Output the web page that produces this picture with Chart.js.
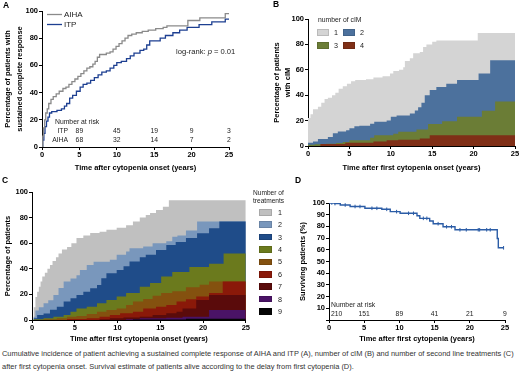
<!DOCTYPE html>
<html>
<head>
<meta charset="utf-8">
<script src="https://cdn.jsdelivr.net/npm/chart.js@4.4.1/dist/chart.umd.min.js"></script>
<style>
body { margin: 0; background: #fff; }
#fig { position: relative; width: 520px; height: 377px; overflow: hidden; font-family: 'Liberation Sans', Arial, sans-serif; color: #000; }
#fig canvas, #fig .t { position: absolute; }
.t { white-space: nowrap; }
.letter { font-weight: bold; font-size: 8.5px; line-height: 9px; }
.cap { font-size: 7.45px; line-height: 13px; color: #333; }
.sw { position: absolute; box-sizing: border-box; border: 1px solid rgba(0,0,0,0.12); }
</style>
</head>
<body>
<div id="fig">
  <canvas id="cA" width="260" height="172" style="left:0;top:0"></canvas>
  <canvas id="cB" width="260" height="172" style="left:260px;top:0"></canvas>
  <canvas id="cC" width="250" height="163" style="left:0;top:180px"></canvas>
  <canvas id="cD" width="226" height="163" style="left:294px;top:180px"></canvas>

  <div class="t letter" style="left:3px;top:1px">A</div>
  <div class="t letter" style="left:273px;top:0px">B</div>
  <div class="t letter" style="left:2px;top:176px">C</div>
  <div class="t letter" style="left:295px;top:176px">D</div>

  <div class="t" style="left:318px;top:16px;font-size:6.8px;color:#222">number of cIM</div>
  <div class="t" style="left:253px;top:189px;font-size:6.6px;line-height:8px;color:#222">Number of<br>treatments</div>
  <div id="legB"></div>
  <div id="legC"></div>

  <div class="t cap" style="left:2px;top:347px">Cumulative incidence of patient achieving a sustained complete response of AIHA and ITP (A), number of cIM (B) and number of second line treatments (C)<br>after first cytopenia onset. Survival estimate of patients alive according to the delay from first cytopenia (D).</div>
</div>
<script>
// ---- A: sustained complete response (Kaplan-Meier style, %)
var aihaYears = [0, 0.1, 0.2, 0.35, 0.5, 0.7, 0.9, 1.2, 1.5, 1.9, 2.3, 2.8, 3.2, 3.6, 4.0, 4.4, 4.8, 5.2, 5.6, 6.0, 6.4, 6.8, 7.1, 7.4, 7.7, 8.6, 9.1, 9.5, 9.9, 10.3, 10.7, 11.1, 11.5, 12.0, 12.6, 13.4, 14.2, 15.2, 16.2, 16.7, 19.5, 21.1, 24.5, 25];
var aihaPct   = [0, 8, 14, 20, 25, 28, 32, 35, 37, 39, 41, 43, 44, 46, 48, 50, 52, 54, 56, 58, 59, 61, 63, 66, 68, 69, 70, 72, 74, 76, 78, 80, 82, 83, 84, 85, 86, 87, 88, 89, 93, 95, 98, 98];
var itpYears = [0, 0.1, 0.25, 0.4, 0.6, 0.8, 1.0, 1.3, 2.0, 2.6, 3.0, 3.3, 3.7, 4.1, 4.6, 5.1, 5.5, 6.0, 6.5, 7.0, 7.5, 8.0, 8.6, 9.1, 9.6, 10.0, 10.6, 11.3, 11.8, 12.3, 13.1, 13.6, 14.0, 14.4, 15.8, 16.5, 17.5, 18.4, 19.4, 21.0, 22.7, 24.5, 25];
var itpPct   = [0, 5, 10, 15, 19, 22, 25, 26, 27, 28, 30, 32, 36, 38, 41, 44, 46, 47, 49, 51, 53, 55, 56, 58, 60, 62, 63, 65, 67, 69, 71, 72, 75, 78, 80, 82, 84, 86, 88, 90, 92, 94, 94];
var riskYearsA = [5, 10, 15, 20, 25];
var itpAtRisk  = [89, 45, 19, 9, 3];
var aihaAtRisk = [68, 32, 14, 7, 2];

// ---- B: cumulative % of patients with >= n cIM
var cimLevels = ['1', '2', '3', '4'];
var cim1Years = [0, 0.3, 0.6, 1.2, 1.6, 2.0, 2.4, 2.9, 3.3, 3.7, 4.2, 4.7, 5.2, 5.7, 7.0, 7.9, 9.0, 9.9, 10.3, 11.0, 11.5, 11.7, 12.3, 12.7, 13.5, 13.9, 14.3, 15.0, 15.5, 20.5, 25];
var cim1Pct   = [22, 25, 29, 31, 34, 37, 38, 40, 42, 45, 47, 49, 51, 52, 52.5, 54, 55, 57, 59, 60, 62, 67, 69, 73, 74, 78, 80, 82, 83, 89, 89];
var cim2Years = [0, 0.6, 1.2, 2.4, 3.0, 3.6, 4.6, 5.0, 5.6, 6.2, 7.5, 8.0, 9.5, 10.0, 10.7, 12.3, 12.9, 13.3, 13.7, 14.1, 14.7, 15.5, 16.7, 18.0, 20.6, 22.0, 25];
var cim2Pct   = [2.5, 3.5, 5.5, 7, 10, 11.5, 12.5, 14, 15.5, 16, 17.5, 19, 20, 23, 24, 25.5, 28, 30.5, 34, 40, 44, 46.5, 49, 52, 57, 67.5, 67.5];
var cim3Years = [0, 0.8, 2.2, 3.4, 4.2, 5.0, 7.5, 8.0, 10.3, 10.9, 13.1, 14.5, 16.2, 18.0, 21.0, 22.6, 25];
var cim3Pct   = [1, 1.3, 1.8, 2.4, 3.2, 4.5, 6.5, 8.5, 9.7, 11.3, 13, 17.3, 19.5, 23, 27.8, 35, 35];
var cim4Years = [0, 1.5, 4.5, 7.9, 9.5, 10.9, 13.5, 14.7, 25];
var cim4Pct   = [0, 1.5, 2.5, 3.5, 4.5, 5, 6, 8.5, 8.5];

// ---- C: cumulative % of patients with >= n second line treatments
var trtLevels = ['1', '2', '3', '4', '5', '6', '7', '8', '9'];
var trt1Years = [0, 0.2, 0.4, 0.6, 0.8, 1.0, 1.2, 1.5, 1.8, 2.1, 2.4, 2.8, 3.1, 3.5, 4.1, 4.6, 5.2, 6.0, 6.8, 7.9, 8.7, 9.9, 11.0, 11.8, 12.6, 13.3, 13.8, 14.5, 15.3, 16.0, 25];
var trt1Pct   = [0, 10, 18, 22, 26, 30, 34, 37, 40, 43, 46, 49, 52, 55, 57, 60, 64, 66, 68, 69, 70.5, 72, 74, 77, 80, 82, 83.5, 86, 88.5, 93.5, 93.5];
var trt2Years = [0, 0.2, 0.4, 0.8, 1.35, 1.9, 2.5, 3.1, 3.7, 4.5, 5.2, 5.6, 6.4, 7.2, 9.1, 9.9, 11.0, 11.4, 13.0, 14.1, 15.7, 16.4, 17.0, 18.0, 19.3, 25];
var trt2Pct   = [0, 2.5, 7.5, 10, 13, 15.5, 19.5, 25, 30, 32.5, 35, 39, 43, 45.5, 47, 51, 53.5, 56, 57.5, 60, 61.5, 65, 66, 70, 77, 77];
var trt3Years = [0, 0.2, 0.6, 1.35, 2.1, 2.9, 3.7, 4.5, 5.2, 6.0, 6.8, 7.6, 8.1, 8.7, 9.9, 10.7, 11.4, 12.6, 13.3, 14.5, 15.7, 16.8, 18.0, 19.3, 20.7, 21.9, 25];
var trt3Pct   = [0, 1.3, 4, 5, 8, 10.4, 14.4, 17, 19.6, 22, 24.8, 27.4, 32.6, 36.5, 39, 42, 45.7, 49, 51, 54.7, 58.6, 61, 64, 67.7, 71.6, 77, 77];
var trt4Years = [0, 0.2, 1.35, 2.5, 3.7, 4.5, 5.2, 6.4, 7.6, 8.7, 9.9, 11.0, 12.6, 13.8, 15.1, 16.4, 18.4, 20.7, 22.4, 25];
var trt4Pct   = [0, 0.5, 1.3, 2.6, 4, 6.5, 9, 10.4, 13, 15.7, 18.3, 21, 26, 29, 34, 37.5, 41.5, 44, 52, 52];
var trt5Years = [0, 1.35, 2.9, 4.1, 5.2, 6.4, 7.6, 8.7, 9.9, 11.0, 11.8, 13.0, 14.1, 15.1, 16.4, 18.0, 19.6, 20.7, 25];
var trt5Pct   = [0, 0.5, 1.3, 2.6, 3.1, 4.7, 6.5, 7.8, 9, 11.7, 14.4, 16.5, 19, 21, 22.5, 25.5, 27.5, 30, 30];
var trt6Years = [0, 4.1, 6.4, 7.9, 9.1, 10.3, 11.8, 13.0, 14.5, 15.7, 16.9, 18.0, 19.2, 20.7, 22.3, 25];
var trt6Pct   = [0, 0.8, 1.3, 2.6, 4, 5.2, 6.5, 9, 10.4, 11.7, 14.4, 16.2, 18.3, 21, 30, 30];
var trt7Years = [0, 7.9, 9.1, 10.7, 12.6, 14.1, 15.7, 16.9, 17.6, 19.2, 20.7, 25];
var trt7Pct   = [0, 0.5, 1.3, 2, 2.6, 4, 5.2, 6.5, 9, 15.7, 19.6, 19.6];
var trt8Years = [0, 11.0, 12.6, 15.7, 17.6, 20.7, 25];
var trt8Pct   = [0, 0.5, 1.3, 1.8, 2.6, 7.8, 7.8];
var trt9Years = [0, 11.8, 18.0, 25];
var trt9Pct   = [0, 0.3, 1.0, 1.0];

// ---- D: survival (%)
var survYears = [0, 0.8, 1.6, 3.0, 5.1, 7.5, 8.7, 10.1, 12.5, 12.9, 14.3, 14.8, 16.2, 17.9, 23.9, 24.05, 24.8];
var survPct   = [100, 99.5, 98.3, 97, 95.5, 94.6, 92.6, 91.2, 89.1, 86.9, 84.6, 82.3, 79.7, 77.1, 69.7, 61.7, 61.7];
var censorYears = [0.4, 0.85, 2.3, 3.7, 4.4, 6.1, 6.8, 8.2, 9.6, 11.3, 12.0, 13.4, 13.9, 15.5, 16.7, 17.4, 18.6, 19.5, 21.2, 21.4, 22.4, 22.9, 24.8];
var censorPct   = [100, 99.5, 98.3, 97, 97, 95.5, 95.5, 94.6, 92.6, 91.2, 91.2, 86.9, 86.9, 82.3, 79.7, 79.7, 77.1, 77.1, 77.1, 77.1, 77.1, 77.1, 61.7];
var riskYearsD = [0, 5, 10, 15, 20, 25];
var survAtRisk = [210, 151, 89, 41, 21, 9];

var FONT = "'Liberation Sans', Arial, sans-serif";
var aihaColor = '#8a8a8a', itpColor = '#1d3f91', survColor = '#2b5ca6';
var cimColors = ['#d4d4d4', '#4c719d', '#6b7d36', '#7f2f17'];
var trtColors = ['#c0c0c0', '#7997bc', '#1f4c89', '#6b7a1d', '#84510f', '#8a1909', '#5a0b0b', '#4a1366', '#050505'];

function pts(xs, ys) {
  return xs.map(function(x, i) { return {x: x, y: ys[i]}; });
}

function makeScales(o) {
  var tickFont = {family: FONT, size: 7.5, weight: 'bold'};
  return {
    x: {
      type: 'linear', min: 0, max: 25,
      ticks: {stepSize: 5, color: '#000', font: tickFont, padding: 0, maxRotation: 0, autoSkip: false},
      grid: {drawOnChartArea: false, tickLength: 3, color: '#000'},
      border: {color: '#000', width: 1},
      title: {display: true, text: o.xTitle, color: '#000', font: {family: FONT, size: 7.5, weight: 'bold'}, padding: 0},
      afterFit: function(s) { s.height = o.xH; }
    },
    y: {
      min: 0, max: 100,
      ticks: {stepSize: o.yStep, color: '#000', font: tickFont, padding: 1, autoSkip: false,
              callback: function(v) { return (o.hideZero && v === 0) ? '' : v; }},
      grid: {drawOnChartArea: false, tickLength: 3, color: '#000'},
      border: {color: '#000', width: 1},
      title: {display: true, text: o.yTitle, color: '#000',
              font: {family: FONT, size: 7.5, weight: 'bold', lineHeight: o.yLH}, padding: {top: o.yPad, bottom: 0}},
      afterFit: function(s) { s.width = o.yW; }
    }
  };
}

function makeChart(id, datasets, scales, pad, plugins) {
  return new Chart(document.getElementById(id), {
    type: 'line',
    data: {datasets: datasets},
    options: {
      responsive: false, animation: false,
      layout: {padding: pad},
      scales: scales,
      elements: {point: {radius: 0}},
      plugins: {legend: {display: false}, tooltip: {enabled: false}}
    },
    plugins: plugins || []
  });
}

function stepLine(xs, ys, color, w) {
  return {data: pts(xs, ys), stepped: true, borderColor: color, borderWidth: w, fill: false, pointRadius: 0};
}

// stacked look: each ">= n" curve filled to zero, smallest drawn on top
function bands(list, colors) {
  var ds = list.map(function(c, i) {
    return {data: pts(c[0], c[1]), stepped: true, borderWidth: 0, borderColor: 'rgba(0,0,0,0)',
            backgroundColor: colors[i], fill: 'origin', pointRadius: 0};
  });
  return ds.reverse();
}

// ---- panel A
var textA = {
  id: 'textA',
  afterDatasetsDraw: function(chart) {
    var ctx = chart.ctx, xs = chart.scales.x;
    ctx.save();
    ctx.lineWidth = 1.3;
    ctx.strokeStyle = aihaColor;
    ctx.beginPath(); ctx.moveTo(47, 14.5); ctx.lineTo(62, 14.5); ctx.stroke();
    ctx.strokeStyle = itpColor;
    ctx.beginPath(); ctx.moveTo(47, 24.5); ctx.lineTo(62, 24.5); ctx.stroke();
    ctx.fillStyle = '#222';
    ctx.textBaseline = 'middle';
    ctx.font = '8px ' + FONT;
    ctx.fillText('AIHA', 64, 14.5);
    ctx.fillText('ITP', 64, 24.5);

    ctx.font = '7.6px ' + FONT;
    var x = 176;
    ctx.fillText('log-rank: ', x, 52); x += ctx.measureText('log-rank: ').width;
    ctx.font = 'italic 7.6px ' + FONT;
    ctx.fillText('p', x, 52); x += ctx.measureText('p').width;
    ctx.font = '7.6px ' + FONT;
    ctx.fillText(' = 0.01', x, 52);

    ctx.font = '6.8px ' + FONT;
    ctx.fillText('Number at risk', 55, 122);
    ctx.textAlign = 'right';
    ctx.fillText('ITP', 68, 131);
    ctx.fillText('AIHA', 68, 140.5);
    ctx.textAlign = 'center';
    riskYearsA.forEach(function(yr, i) {
      var px = xs.getPixelForValue(yr);
      ctx.fillText(String(itpAtRisk[i]), px, 131);
      ctx.fillText(String(aihaAtRisk[i]), px, 140.5);
    });
    ctx.restore();
  }
};

makeChart('cA', [
  stepLine(aihaYears, aihaPct, aihaColor, 1.3),
  stepLine(itpYears, itpPct, itpColor, 1.3)
], makeScales({
  xTitle: 'Time after cytopenia onset (years)', xH: 25,
  yTitle: ['Percentage of patients with', 'sustained complete response'], yLH: 1.6, yPad: 2, yW: 42, yStep: 20
}), {left: 0, top: 11, right: 31, bottom: 0}, [textA]);

// ---- panel B
makeChart('cB', bands([
  [cim1Years, cim1Pct], [cim2Years, cim2Pct], [cim3Years, cim3Pct], [cim4Years, cim4Pct]
], cimColors), makeScales({
  xTitle: 'Time after first cytopenia onset (years)', xH: 26,
  yTitle: ['Percentage of patients', 'with cIM'], yLH: 1.45, yPad: 0, yW: 36.5, yStep: 20
}), {left: 11.5, top: 19, right: 5, bottom: 0});

// ---- panel C
makeChart('cC', bands([
  [trt1Years, trt1Pct], [trt2Years, trt2Pct], [trt3Years, trt3Pct],
  [trt4Years, trt4Pct], [trt5Years, trt5Pct], [trt6Years, trt6Pct],
  [trt7Years, trt7Pct], [trt8Years, trt8Pct], [trt9Years, trt9Pct]
], trtColors), makeScales({
  xTitle: 'Time after first cytopenia onset (years)', xH: 23,
  yTitle: 'Percentage of patients', yLH: 1.3, yPad: 0, yW: 29, yStep: 20
}), {left: 3, top: 12, right: 3, bottom: 0});

// ---- panel D
var textD = {
  id: 'textD',
  afterDatasetsDraw: function(chart) {
    var ctx = chart.ctx, xs = chart.scales.x;
    ctx.save();
    ctx.fillStyle = '#222';
    ctx.textBaseline = 'middle';
    ctx.font = '6.8px ' + FONT;
    ctx.fillText('Number at risk', 37, 125);
    riskYearsD.forEach(function(yr, i) {
      var px = xs.getPixelForValue(yr);
      ctx.textAlign = i === 0 ? 'left' : 'center';
      ctx.fillText(String(survAtRisk[i]), i === 0 ? px + 2 : px, 134);
    });
    ctx.restore();
  }
};

makeChart('cD', [
  stepLine(survYears, survPct, survColor, 1.4),
  {data: pts(censorYears, censorPct), showLine: false, pointStyle: 'line', rotation: 90,
   pointRadius: 1.8, borderColor: survColor, borderWidth: 1}
], makeScales({
  xTitle: 'Time after first cytopenia (years)', xH: 23,
  yTitle: 'Surviving patients (%)', yLH: 1.3, yPad: 0, yW: 31, yStep: 10, hideZero: true
}), {left: 4, top: 23, right: 15, bottom: 0}, [textD]);

// ---- HTML legends for B and C
function swatch(parent, left, top, w, h, color, label, labelLeft) {
  var s = document.createElement('div');
  s.className = 'sw';
  s.style.cssText = 'left:' + left + 'px;top:' + top + 'px;width:' + w + 'px;height:' + h + 'px;background:' + color;
  parent.appendChild(s);
  var t = document.createElement('div');
  t.className = 't';
  t.style.cssText = 'left:' + labelLeft + 'px;top:' + (top + h / 2 - 4.5) + 'px;font-size:7.2px;line-height:9px;color:#222';
  t.textContent = label;
  parent.appendChild(t);
}
var legB = document.getElementById('legB');
cimLevels.forEach(function(lab, i) {
  var col = i % 2, row = Math.floor(i / 2);
  swatch(legB, 317 + col * 26, 29 + row * 13, 12, 7, cimColors[i], lab, 334 + col * 26);
});
var legC = document.getElementById('legC');
trtLevels.forEach(function(lab, i) {
  swatch(legC, 259, 209 + i * 12.4, 13, 6.5, trtColors[i], lab, 278);
});
</script>
</body>
</html>
